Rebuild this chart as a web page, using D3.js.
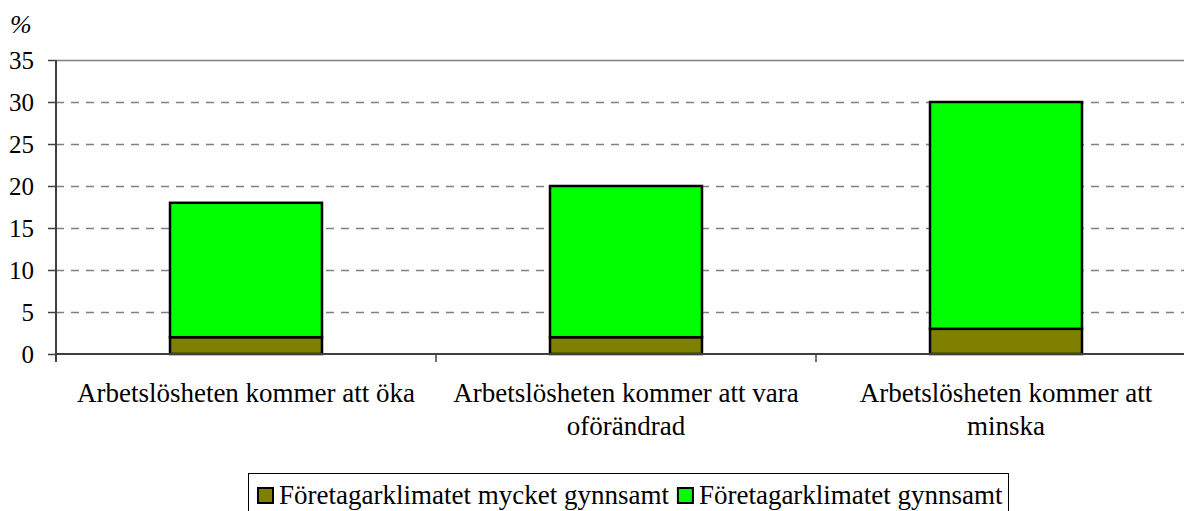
<!DOCTYPE html>
<html>
<head>
<meta charset="utf-8">
<script src="https://cdn.jsdelivr.net/npm/d3@7/dist/d3.min.js"></script>
<style>
html,body{margin:0;padding:0;background:#fff;}
svg{display:block;}
svg text{font-family:"Liberation Serif","Times New Roman","DejaVu Serif",serif !important;}
</style>
</head>
<body>
<svg id="chart" width="1184" height="511"></svg>
<script>
const categories = ["Arbetslösheten kommer att öka", "Arbetslösheten kommer att vara oförändrad", "Arbetslösheten kommer att minska"];
const seriesNames = ["Företagarklimatet mycket gynnsamt", "Företagarklimatet gynnsamt"];
const seriesColors = ["#808000", "#00ff00"];
const mycketGynnsamt = [2, 2, 3];
const gynnsamt = [16, 18, 27];
const yTicks = [0, 5, 10, 15, 20, 25, 30, 35];

(function () {
const FONT = "'Liberation Serif','Times New Roman','DejaVu Serif',serif";
const svg = d3.select("#chart");
const pL = 56, pR = 1196, pT = 60, pB = 354;

const x = d3.scaleBand().domain(categories).range([pL, pR]).paddingInner(0).paddingOuter(0);
const y = d3.scaleLinear().domain([0, 35]).range([pB, pT]);

// gridlines
svg.append("g").selectAll("line").data(yTicks.filter(t => t > 0)).join("line")
  .attr("x1", pL).attr("x2", pR)
  .attr("y1", d => y(d) + 0.5).attr("y2", d => y(d) + 0.5)
  .attr("stroke", "#808080").attr("stroke-width", 1.3)
  .attr("stroke-dasharray", d => d === 35 ? null : "8,7");

// stacked data
const rows = categories.map((c, i) => ({cat: c, s0: mycketGynnsamt[i], s1: gynnsamt[i]}));
const stack = d3.stack().keys(["s0", "s1"])(rows);
const bw = x.bandwidth() * 0.4;

svg.append("g").selectAll("g").data(stack).join("g")
  .attr("fill", (d, i) => seriesColors[i])
  .selectAll("rect").data(d => d).join("rect")
  .attr("x", d => x(d.data.cat) + (x.bandwidth() - bw) / 2)
  .attr("width", bw)
  .attr("y", d => y(d[1]))
  .attr("height", d => y(d[0]) - y(d[1]))
  .attr("stroke", "#000").attr("stroke-width", 2.5);

// y axis
const yAxis = d3.axisLeft(y).tickValues(yTicks).tickSize(8).tickPadding(14);
const gy = svg.append("g").attr("transform", `translate(${pL},0)`).call(yAxis)
  .attr("font-family", FONT).attr("font-size", 25);
gy.select(".domain").attr("stroke", "#404040").attr("stroke-width", 2).attr("d", `M0,${pT}V${pB + 8}`);
gy.selectAll(".tick line").attr("stroke", "#404040").attr("stroke-width", 1.5);
gy.selectAll(".tick text").attr("fill", "#000").style("font-size", "25px")
  .style("font-family", FONT).attr("dy", "0.34em");

// x axis baseline & ticks at band boundaries
svg.append("line").attr("x1", pL).attr("x2", pR).attr("y1", pB).attr("y2", pB)
  .attr("stroke", "#404040").attr("stroke-width", 2);
svg.append("g").selectAll("line").data(categories.slice(1)).join("line")
  .attr("x1", d => x(d)).attr("x2", d => x(d))
  .attr("y1", pB).attr("y2", pB + 8)
  .attr("stroke", "#404040").attr("stroke-width", 1.5);

// category labels with wrap (measured in SVG)
const labelG = svg.append("g");
const maxW = 352;
categories.forEach(c => {
  const t = labelG.append("text").attr("text-anchor", "middle")
    .style("font-size", "27px").style("font-family", FONT).attr("fill", "#000");
  const cx = x(c) + x.bandwidth() / 2;
  const words = c.split(" ");
  let line = [];
  let lineNo = 0;
  let ts = t.append("tspan").attr("x", cx).attr("y", 402);
  words.forEach(w => {
    line.push(w);
    ts.text(line.join(" "));
    if (ts.node().getComputedTextLength() > maxW && line.length > 1) {
      line.pop();
      ts.text(line.join(" "));
      line = [w];
      lineNo++;
      ts = t.append("tspan").attr("x", cx).attr("y", 402 + lineNo * 33).text(w);
    }
  });
});

// % label
svg.append("text").attr("x", 10).attr("y", 33).style("font-size", "26px")
  .style("font-family", FONT).style("font-style", "italic").text("%");

// legend
const lg = svg.append("g");
lg.append("rect").attr("x", 248.5).attr("y", 473.5).attr("width", 760).attr("height", 45)
  .attr("fill", "#fff").attr("stroke", "#000").attr("stroke-width", 1);
let lx = 258;
seriesNames.forEach((name, i) => {
  lg.append("rect").attr("x", lx).attr("y", 488).attr("width", 15).attr("height", 15)
    .attr("fill", seriesColors[i]).attr("stroke", "#000").attr("stroke-width", 2);
  const tx = lg.append("text").attr("x", lx + 21).attr("y", 504).style("font-size", "27px")
    .style("font-family", FONT).text(name);
  lx = lx + 21 + tx.node().getComputedTextLength() + 9;
});
})();
</script>
</body>
</html>
